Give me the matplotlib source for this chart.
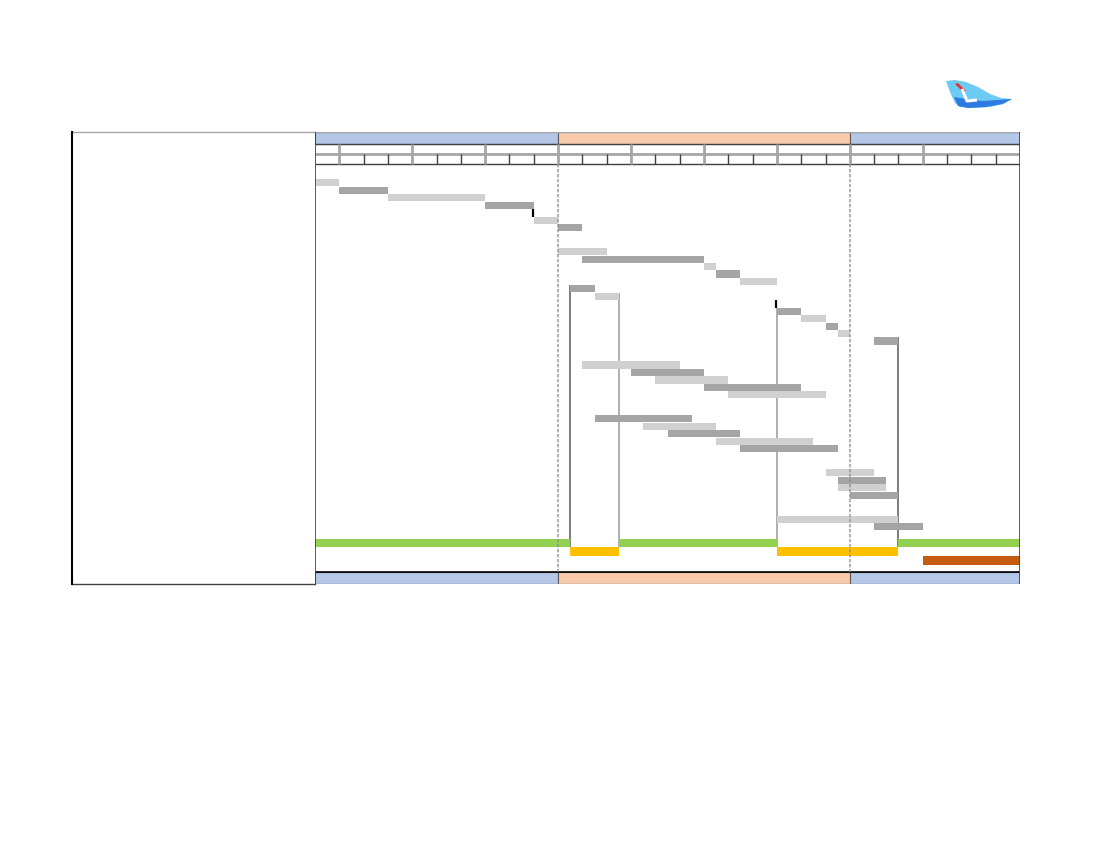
import matplotlib
matplotlib.use("Agg")
import matplotlib.pyplot as plt
from matplotlib.patches import Polygon, Rectangle

# timeline: 29 week columns, grouped into phases
N_WEEKS = 29
phase_start = [0, 10, 22]
phase_end = [10, 22, 29]
phase_color = ["#B4C7E7", "#F8CBAD", "#B4C7E7"]
major_cols = [1, 4, 7, 10, 13, 16, 19, 22, 25]
phase_dividers = [10, 22]

# task rows (start / end in weeks), grouped in blocks
task_group = [0] * 7 + [1] * 13 + [2] * 5 + [3] * 5 + [4] * 4 + [5] * 2
task_start = [0, 1, 3, 7, 9, 9, 10,
              10, 11, 16, 16.5, 17.5, 10.5, 11.5, 19, 19, 20, 21, 21.5, 23,
              11, 13, 14, 16, 17,
              11.5, 13.5, 14.5, 16.5, 17.5,
              21, 21.5, 21.5, 22,
              19, 23]
task_end = [1, 3, 7, 9, 9, 10, 11,
            12, 16, 16.5, 17.5, 19, 11.5, 12.5, 19, 20, 21, 21.5, 22, 24,
            15, 16, 17, 20, 21,
            15.5, 16.5, 17.5, 20.5, 21.5,
            23, 23.5, 23.5, 24,
            24, 25]
task_kind = ["light", "dark", "light", "dark", "mile", "light", "dark",
             "light", "dark", "light", "dark", "light", "dark", "light", "mile",
             "dark", "light", "dark", "light", "dark",
             "light", "dark", "light", "dark", "light",
             "dark", "light", "dark", "light", "dark",
             "light", "dark", "light", "dark",
             "light", "dark"]

# dependency links: column and the task row they hang from
link_x = [10.5, 12.5, 19, 24]
link_row = [12, 13, 15, 19]
link_color = ["#595959", "#9A9A9A", "#9A9A9A", "#595959"]

# summary strips
green_start = [0, 12.5, 24]
green_end = [10.5, 19, 29]
yellow_start = [10.5, 19]
yellow_end = [12.5, 24]
brown_start = [25]
brown_end = [29]

KIND_COLOR = {"light": "#D0D0D0", "dark": "#A5A5A5"}

# ---- layout (vertical units ~ pixels) ----
BAND_H, ROW2_H, ROW3_H = 12.3, 9.7, 9.7
HEAD_H = BAND_H + ROW2_H + ROW3_H
PITCH = 7.45
GAP = 16.6
FIRST_GAP = 15.6
STRIP_GAP = 8.2
STRIP_H = 8.65
TOTAL_H = 452

row_top = []
y = HEAD_H + FIRST_GAP
prev = task_group[0]
for g in task_group:
    if g != prev:
        y += GAP
        prev = g
    row_top.append(y)
    y += PITCH
strip_top = y + STRIP_GAP
data_bottom = TOTAL_H - BAND_H

fig = plt.figure(figsize=(11, 8.5), dpi=100)

# background overlay in pixel coords (left panel + logo)
bg = fig.add_axes([0, 0, 1, 1])
bg.set_xlim(0, 1100)
bg.set_ylim(850, 0)
bg.axis("off")
bg.plot([71.5, 315], [132, 132], color="#A6A6A6", lw=1)
bg.plot([71.5, 315], [584, 584], color="#404040", lw=1)
bg.plot([71.5, 71.5], [132, 584], color="#000000", lw=1.5)

bg.add_patch(Polygon([(946, 81), (955, 80), (966, 82), (978, 87), (990, 94),
                      (1001, 98), (1012, 99), (1004, 104), (990, 107),
                      (972, 108), (960, 107), (955, 103), (950, 92)],
                     closed=True, color="#6DCBF3", lw=0))
bg.add_patch(Polygon([(954, 97), (966, 99), (982, 101), (998, 100), (1012, 99),
                      (1002, 104), (986, 107), (968, 108), (958, 106)],
                     closed=True, color="#2D7BE0", lw=0))
bg.add_patch(Polygon([(955, 84), (958, 83), (966, 91), (963, 92)],
                     closed=True, color="#E8322B", lw=0))
bg.plot([962, 967, 977], [89, 101, 100], color="white", lw=2.2,
        solid_capstyle="butt")

# main chart
ax = fig.add_axes([315 / 1100, (850 - 584) / 850, 705 / 1100, 452 / 850])
ax.set_xlim(0, N_WEEKS)
ax.set_ylim(TOTAL_H, 0)
ax.axis("off")

# phase bands top and bottom
for s, e, c in zip(phase_start, phase_end, phase_color):
    ax.barh(0, e - s, left=s, height=BAND_H, align="edge", color=c,
            edgecolor="#595959", lw=0.8, zorder=2)
    ax.barh(data_bottom, e - s, left=s, height=BAND_H, align="edge", color=c,
            edgecolor="#595959", lw=0.8, zorder=2)
ax.plot([0, N_WEEKS], [data_bottom, data_bottom], color="#000000", lw=1.2, zorder=3)
ax.plot([0, N_WEEKS], [0, 0], color="#A6A6A6", lw=1, zorder=3)
ax.plot([0, N_WEEKS], [TOTAL_H, TOTAL_H], color="#A6A6A6", lw=1, zorder=3)

# header grid
ax.hlines(BAND_H, 0, N_WEEKS, color="#404040", lw=1, zorder=3)
ax.hlines(BAND_H + ROW2_H, 0, N_WEEKS, color="#A6A6A6", lw=2, zorder=3)
ax.hlines(HEAD_H, 0, N_WEEKS, color="#404040", lw=1, zorder=3)
minor_cols = [c for c in range(1, N_WEEKS) if c not in major_cols]
ax.vlines(minor_cols, BAND_H + ROW2_H, HEAD_H, color="#404040", lw=1, zorder=3)
ax.vlines(major_cols, BAND_H, HEAD_H, color="#A6A6A6", lw=2, zorder=3)

# outer borders
ax.vlines([0, N_WEEKS], 0, TOTAL_H, color="#404040", lw=1.2, zorder=5)

# dependency links
for x, r, c in zip(link_x, link_row, link_color):
    ax.vlines(x, row_top[r], strip_top + STRIP_H, color=c, lw=1.1, zorder=2)

# task bars
for top, s, e, k in zip(row_top, task_start, task_end, task_kind):
    if k == "mile":
        ax.vlines(s - 0.03, top, top + PITCH, color="#000000", lw=1.6, zorder=4)
    else:
        ax.barh(top, e - s, left=s, height=PITCH - 0.3, align="edge",
                color=KIND_COLOR[k], lw=0, zorder=3)

# summary strips
for s, e in zip(green_start, green_end):
    ax.barh(strip_top, e - s, left=s, height=STRIP_H, align="edge",
            color="#92D050", lw=0, zorder=3)
for s, e in zip(yellow_start, yellow_end):
    ax.barh(strip_top + STRIP_H, e - s, left=s, height=STRIP_H, align="edge",
            color="#FFC000", lw=0, zorder=3)
for s, e in zip(brown_start, brown_end):
    ax.barh(strip_top + 2 * STRIP_H, e - s, left=s, height=STRIP_H, align="edge",
            color="#C55A11", lw=0, zorder=3)

# phase boundary markers
ax.vlines(phase_dividers, HEAD_H, data_bottom, color="#8C8C8C", lw=1.2,
          linestyles=(0, (2, 1)), alpha=0.8, zorder=4)

fig.savefig("out.png", dpi=100)
